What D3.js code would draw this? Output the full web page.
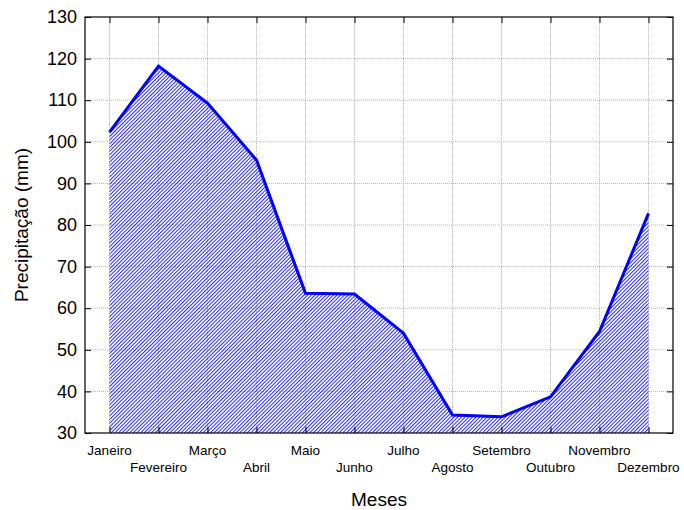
<!DOCTYPE html>
<html>
<head>
<meta charset="utf-8">
<script src="https://cdn.jsdelivr.net/npm/d3@7"></script>
<style>
  body { margin: 0; background: #fff; }
  text { font-family: "Liberation Sans", Arial, sans-serif; }
</style>
</head>
<body>
<svg id="chart" width="684" height="510"></svg>
<script>
// data
const months = ['Janeiro', 'Fevereiro', 'Março', 'Abril', 'Maio', 'Junho',
                'Julho', 'Agosto', 'Setembro', 'Outubro', 'Novembro', 'Dezembro'];
const precip = [102.3, 118.2, 109.3, 95.6, 63.6, 63.4, 54.0, 34.3, 33.9, 38.7, 54.4, 82.8];
const yTicks = [30, 40, 50, 60, 70, 80, 90, 100, 110, 120, 130];

const margin = {left: 85, right: 11, top: 17, bottom: 77};
const width = 684 - margin.left - margin.right;
const height = 510 - margin.top - margin.bottom;

const svg = d3.select('#chart');

// hatch pattern ("/" stripes)
svg.append('defs').append('pattern')
    .attr('id', 'hatch')
    .attr('patternUnits', 'userSpaceOnUse')
    .attr('width', 2.6)
    .attr('height', 4)
    .attr('patternTransform', 'rotate(45)')
    .append('rect')
    .attr('width', 1)
    .attr('height', 4)
    .attr('fill', '#2828ff');

const g = svg.append('g')
    .attr('transform', `translate(${margin.left},${margin.top})`);

const x = d3.scaleLinear().domain([0.5, 12.5]).range([0, width]);
const y = d3.scaleLinear().domain([30, 130]).range([height, 0]);

const data = months.map((m, i) => ({month: m, idx: i + 1, value: precip[i]}));

// grid
g.selectAll('.hgrid')
    .data(yTicks.slice(1, -1))
    .join('line')
    .attr('x1', 0).attr('x2', width)
    .attr('y1', d => y(d)).attr('y2', d => y(d))
    .attr('stroke', '#b8b8b8')
    .attr('stroke-width', 1)
    .attr('stroke-dasharray', '1,1');

g.selectAll('.vgrid')
    .data(data)
    .join('line')
    .attr('x1', d => x(d.idx)).attr('x2', d => x(d.idx))
    .attr('y1', 0).attr('y2', height)
    .attr('stroke', '#b8b8b8')
    .attr('stroke-width', 1)
    .attr('stroke-dasharray', '1,1');

// hatched area
const area = d3.area()
    .x(d => x(d.idx))
    .y0(y(30))
    .y1(d => y(d.value));

g.append('path')
    .datum(data)
    .attr('d', area)
    .attr('fill', 'url(#hatch)');

// line
const line = d3.line()
    .x(d => x(d.idx))
    .y(d => y(d.value));

g.append('path')
    .datum(data)
    .attr('d', line)
    .attr('fill', 'none')
    .attr('stroke', '#0000ff')
    .attr('stroke-width', 3)
    .attr('stroke-linejoin', 'miter');

// axes (ticks pointing inward)
const yAxisL = d3.axisLeft(y).tickValues(yTicks).tickSize(-6).tickPadding(8);
const yAxisR = d3.axisRight(y).tickValues(yTicks).tickSize(-6).tickFormat('');
const xAxisB = d3.axisBottom(x).tickValues(data.map(d => d.idx)).tickSize(-6).tickFormat('');
const xAxisT = d3.axisTop(x).tickValues(data.map(d => d.idx)).tickSize(-6).tickFormat('');

const gy = g.append('g').call(yAxisL);
gy.selectAll('text').attr('font-size', 18).attr('fill', '#000');
g.append('g').attr('transform', `translate(${width},0)`).call(yAxisR);
g.append('g').attr('transform', `translate(0,${height})`).call(xAxisB);
g.append('g').call(xAxisT);

g.selectAll('.domain').remove();
g.selectAll('.tick line').attr('stroke', '#000');

// frame
g.append('rect')
    .attr('width', width).attr('height', height)
    .attr('fill', 'none')
    .attr('stroke', '#000')
    .attr('stroke-width', 1.2);

// staggered month labels
g.selectAll('.mlabel')
    .data(data)
    .join('text')
    .attr('x', d => x(d.idx))
    .attr('y', (d, i) => height + (i % 2 === 0 ? 22 : 39))
    .attr('text-anchor', 'middle')
    .attr('font-size', 13.5)
    .text(d => d.month);

// axis titles
svg.append('text')
    .attr('x', margin.left + width / 2)
    .attr('y', 506)
    .attr('text-anchor', 'middle')
    .attr('font-size', 19)
    .text('Meses');

svg.append('text')
    .attr('transform', `translate(28,${margin.top + height / 2}) rotate(-90)`)
    .attr('text-anchor', 'middle')
    .attr('font-size', 19)
    .text('Precipitação (mm)');
</script>
</body>
</html>
